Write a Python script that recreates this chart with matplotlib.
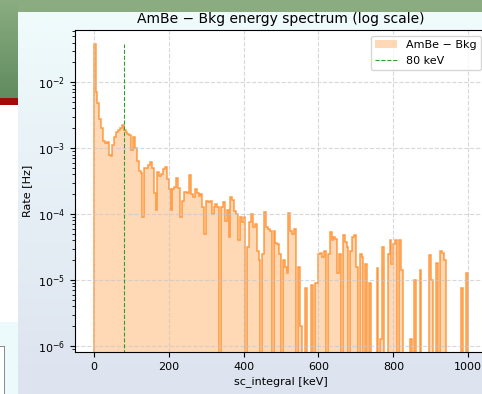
"""
AmBe - Bkg energy spectrum (log scale)
Rate per 5 keV bin, read off the slide screenshot
"""

import numpy as np
import matplotlib
matplotlib.use("Agg")
import matplotlib.pyplot as plt

# ============ 数据 ============
bin_width = 5  # keV
e_min, e_max = 0, 1000
marker_energy = 80  # keV

# rate [Hz] for every 5 keV bin, 0 = empty bin
rate = [
    3.8e-2, 7.1e-3, 4.8e-3, 2.8e-3, 2.0e-3, 1.3e-3, 1.2e-3, 1.26e-3, 7.9e-4, 7.6e-4,      # 0-50
    1.12e-3, 1.5e-3, 1.78e-3, 1.9e-3, 2.0e-3, 2.24e-3, 1.86e-3, 1.74e-3, 1.66e-3, 1.58e-3,  # 50-100
    9.5e-4, 1.5e-3, 1.0e-3, 6.3e-4, 4.5e-4, 4.2e-4, 8.9e-5, 5.0e-4, 5.0e-4, 5.6e-4,     # 100-150
    6.2e-4, 5.0e-4, 2.1e-4, 1.15e-4, 4.4e-4, 3.8e-4, 4.0e-4, 4.8e-4, 5.1e-4, 3.4e-4,    # 150-200
    2.4e-4, 1.15e-4, 2.4e-4, 2.6e-4, 3.5e-4, 2.5e-4, 8.9e-5, 1.6e-4, 2.2e-4, 2.2e-4,    # 200-250
    2.1e-4, 3.9e-4, 2.0e-4, 1.8e-4, 2.4e-4, 2.1e-4, 1.9e-4, 2.0e-4, 1.26e-4, 5.0e-5,    # 250-300
    1.58e-4, 1.5e-4, 1.58e-4, 1.0e-4, 1.3e-4, 1.4e-4, 1.26e-4, 0, 1.26e-4, 1.5e-4,     # 300-350
    7.9e-5, 1.15e-4, 4.5e-5, 1.8e-4, 1.66e-4, 1.12e-4, 1.0e-4, 4.0e-5, 9.1e-5, 7.6e-5,  # 350-400
    8.9e-5, 0, 3.2e-5, 7.6e-5, 1.0e-4, 6.3e-5, 7.1e-5, 2.8e-5, 2.0e-5, 0,               # 400-450
    2.5e-5, 1.07e-4, 6.3e-5, 6.0e-5, 5.6e-5, 0, 5.5e-5, 3.6e-5, 3.5e-5, 2.5e-5,         # 450-500
    0, 2.0e-5, 1.58e-5, 1.26e-5, 1.05e-4, 5.6e-5, 5.0e-5, 6.0e-5, 0, 1.58e-5,           # 500-550
    2.0e-6, 0, 0, 7.6e-6, 0, 0, 8.3e-6, 0, 8.9e-6, 8.9e-6,                              # 550-600
    2.5e-5, 2.6e-5, 2.2e-5, 2.8e-5, 0, 2.5e-5, 5.4e-5, 4.0e-5, 4.5e-5, 4.2e-5,          # 600-650
    1.26e-5, 2.5e-5, 0, 4.8e-5, 3.8e-5, 3.2e-5, 0, 2.8e-5, 4.5e-5, 4.8e-5,              # 650-700
    1.58e-5, 0, 2.5e-5, 2.2e-5, 0, 1.78e-5, 0, 8.9e-6, 0, 0,                            # 700-750
    0, 1.5e-5, 0, 1.26e-6, 3.2e-5, 0, 0, 2.5e-5, 4.0e-5, 1.78e-5,                       # 750-800
    3.5e-5, 4.0e-5, 0, 4.0e-5, 1.4e-5, 0, 0, 0, 0, 1.26e-6,                             # 800-850
    0, 1.0e-5, 0, 0, 1.4e-5, 0, 0, 0, 0, 2.4e-5,                                        # 850-900
    1.0e-5, 0, 0, 1.8e-5, 0, 2.8e-5, 2.6e-5, 2.0e-5, 0, 0,                              # 900-950
    0, 0, 0, 0, 0, 0, 7.6e-6, 0, 0, 1.26e-5,                                            # 950-1000
]

x_ticks = [0, 200, 400, 600, 800, 1000]

# ============ 画布 ============
W, H = 482, 394
fig = plt.figure(figsize=(W / 100, H / 100), dpi=100)

# slide background behind the plot (green header, red bar, light panel)
bg = np.ones((H, W, 3))
top = np.array([240, 252, 252]) / 255
bot = np.array([221, 227, 239]) / 255
t = np.linspace(0, 1, H)[:, None]
bg[:, :, :] = (top * (1 - t) + bot * t)[:, None, :]
green_a = np.array([138, 172, 128]) / 255
green_b = np.array([96, 140, 96]) / 255
bg[:12, :, :] = green_a
g = np.linspace(0, 1, 98)[:, None]
bg[:98, :18, :] = (green_a * (1 - g) + green_b * g)[:, None, :]
bg[98:105, :18, :] = np.array([165, 10, 10]) / 255
bg[105:322, :18, :] = 1.0
bg[322:, :18, :] = np.array([236, 250, 252]) / 255
bg[346:, :5, :] = 1.0
bg[346, :5, :] = 0.55
bg[346:, 4, :] = 0.55

ax_bg = fig.add_axes([0, 0, 1, 1])
ax_bg.imshow(bg, aspect="auto", interpolation="bilinear")
ax_bg.axis("off")

# ============ 主图 ============
ax = fig.add_axes([75 / W, 42 / H, 412 / W, 322 / H])
ax.set_facecolor("white")

edges = np.arange(e_min, e_max + bin_width, bin_width)
rate = np.array(rate)

ax.stairs(rate, edges, fill=True, color="#ff7f0e", alpha=0.3, lw=0,
          label="AmBe \u2212 Bkg")
ax.stairs(rate, edges, color="#ff7f0e", alpha=0.75, lw=1.1)
ax.vlines(marker_energy, 1e-8, rate.max(), colors="#2ca02c", linestyles="--",
          lw=0.8, label=f"{marker_energy} keV")

ax.set_yscale("log")
ax.set_xlim(-50, 1050)
ax.set_ylim(8.1e-7, 6.2e-2)
ax.set_xticks(x_ticks)

ax.grid(True, which="major", ls="--", lw=0.8, color="#c8c8c8", alpha=0.7)
ax.tick_params(labelsize=8)
ax.set_title("AmBe \u2212 Bkg energy spectrum (log scale)", fontsize=10, pad=5)
ax.set_xlabel("sc_integral [keV]", fontsize=8, labelpad=3)
ax.set_ylabel("Rate [Hz]", fontsize=8)
ax.legend(loc="upper right", fontsize=8)

fig.savefig("out.png", dpi=100)
